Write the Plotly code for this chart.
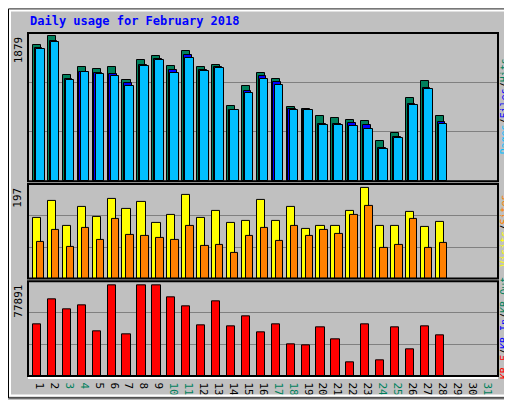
import plotly.graph_objects as go

days = list(range(1, 32))
weekend = [3, 4, 10, 11, 17, 18, 24, 25, 31]

hits = [1764, 1879, 1380, 1482, 1457, 1482, 1304, 1572, 1623, 1495, 1687, 1482, 1508, 971,
        1227, 1406, 1316, 958, 933, 843, 818, 792, 780, 524, 626, 1073, 1291, 843]
files = [1725, 1815, 1316, 1419, 1406, 1393, 1265, 1508, 1585, 1444, 1636, 1444, 1482, 920,
         1163, 1367, 1278, 933, 920, 741, 741, 754, 728, 435, 575, 997, 1201, 767]
pages = [1712, 1802, 1304, 1419, 1393, 1367, 1227, 1495, 1572, 1406, 1598, 1431, 1470, 920,
         1137, 1316, 1240, 920, 920, 728, 728, 716, 677, 422, 562, 984, 1189, 741]
visits = [132, 169, 115, 156, 135, 173, 152, 167, 120, 139, 181, 132, 147, 120,
          126, 171, 126, 156, 107, 115, 115, 147, 197, 115, 115, 145, 113, 122]
sites = [79, 105, 68, 109, 83, 130, 94, 92, 88, 85, 115, 70, 73, 56,
         92, 111, 81, 115, 92, 105, 98, 139, 158, 66, 73, 130, 66, 77]
kbytes = [44044, 66066, 57596, 60984, 38115, 77891, 35574, 77891, 77891, 67760, 60137, 43197,
          64372, 42350, 50820, 37268, 44044, 27104, 26257, 41503, 31339, 11858, 44044, 13552,
          41503, 22869, 42350, 34727]

max_hits = 1879
max_visits = 197
max_kb = 77891

x = days[:len(hits)]
fig = go.Figure()
line = dict(color="black", width=1)


def bar(y, color, offset, width, axis):
    fig.add_trace(go.Bar(x=x, y=y, marker=dict(color=color, line=line), offset=offset,
                         width=width, yaxis=axis, showlegend=False))


bar(hits, "#00805c", -0.57, 0.54, "y")
bar(files, "#0000ff", -0.45, 0.52, "y")
bar(pages, "#00bfff", -0.37, 0.58, "y")
bar(visits, "#ffff00", -0.57, 0.55, "y2")
bar(sites, "#ff8000", -0.3, 0.5, "y2")
bar(kbytes, "#ff0000", -0.57, 0.55, "y3")

ticktext = [f'<span style="color:#00805c">{d}</span>' if d in weekend else str(d) for d in days]

font = dict(family="DejaVu Sans Mono", size=11, color="black")
ax = dict(showline=False, gridcolor="#808080", showticklabels=False, ticks="", zeroline=False)


def yax(r, dom):
    return dict(ax, range=[0, r], domain=dom, tickvals=[r / 3, 2 * r / 3], anchor="x")


fig.update_layout(
    width=512, height=400, margin=dict(l=20, r=22, t=25, b=23),
    paper_bgcolor="#c0c0c0", plot_bgcolor="#c0c0c0", barmode="overlay", bargap=0,
    font=font,
    xaxis=dict(range=[0.1, 31.6], showline=False, showgrid=False, zeroline=False, anchor="y3",
               tickvals=days, ticktext=ticktext, ticks="", tickfont=font),
    yaxis=yax(max_hits * 150 / 147, [0.568, 1]),
    yaxis2=yax(max_visits * 96 / 92, [0.284, 0.56]),
    yaxis3=yax(max_kb * 96 / 92, [0, 0.276]),
)

# panel frames
for y0, y1 in [(0.568, 1), (0.284, 0.56), (0, 0.276)]:
    fig.add_shape(type="rect", xref="paper", yref="paper", x0=0, x1=1, y0=y0, y1=y1,
                  line=dict(color="black", width=2), layer="above")
fig.add_shape(type="line", xref="paper", yref="paper", x0=0, x1=1, y0=-0.006, y1=-0.006,
              line=dict(color="white", width=2))

# outer frame
fig.add_shape(type="rect", xref="paper", yref="paper", x0=-19.5 / 470, x1=491.5 / 470,
              y0=-22.5 / 352, y1=376.5 / 352, line=dict(color="black", width=1))
fig.add_shape(type="rect", xref="paper", yref="paper", x0=-18 / 470, x1=490 / 470,
              y0=-20 / 352, y1=375 / 352, line=dict(color="white", width=2))

fig.add_annotation(text="<b>Daily usage for February 2018</b>", xref="paper", yref="paper",
                   x=0, y=1.01, xanchor="left", yanchor="bottom", showarrow=False,
                   font=dict(family="DejaVu Sans Mono", size=12, color="#0000ff"))

left = [(str(max_hits), 1.0), (str(max_visits), 0.56), (str(max_kb), 0.276)]
for txt, yy in left:
    fig.add_annotation(text=txt, xref="paper", yref="paper", x=-0.003, y=yy - 0.005,
                       xanchor="right", yanchor="top", textangle=-90, showarrow=False, font=font)

rfont = dict(family="DejaVu Sans Mono", size=10, color="black")
right = [('<span style="color:#00bfff">Pages</span>/<span style="color:#0000ff">Files</span>/'
          '<span style="color:#00805c">Hits</span>', 0.784),
         ('<span style="color:#ffff00">Visits</span>/<span style="color:#ff8000">Sites</span>', 0.422),
         ('<span style="color:#ff0000">KB F</span>/<span style="color:#0000ff">KB In</span>/'
          '<span style="color:#00805c">KB Out</span>', 0.138)]
for txt, yy in right:
    fig.add_annotation(text=txt, xref="paper", yref="paper", x=1.0, y=yy, xanchor="left",
                       yanchor="middle", textangle=-90, showarrow=False, font=rfont,
                       borderpad=0)

fig.write_html("out.html")
